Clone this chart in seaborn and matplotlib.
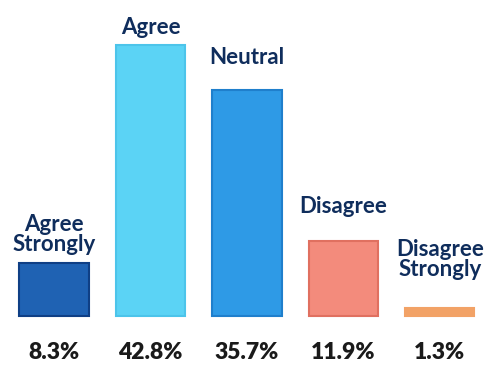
import matplotlib
matplotlib.use("Agg")
import matplotlib.pyplot as plt
import seaborn as sns

categories = ["Agree\nStrongly", "Agree", "Neutral", "Disagree", "Disagree\nStrongly"]
values = [8.3, 42.8, 35.7, 11.9, 1.3]
pct_labels = ["8.3%", "42.8%", "35.7%", "11.9%", "1.3%"]

colors = ["#1f62b3", "#5bd3f5", "#2e9ae6", "#f38b7c", "#f2a266"]
edges = ["#0f3f85", "#4cc4ea", "#1f7fcc", "#e07060", "#f2a266"]
label_pad = [8, 7, 22, 24, 28]  # gap above each bar, in pixels

sns.set_style("white")
plt.rcParams["font.family"] = ["Lato", "DejaVu Sans"]

fig = plt.figure(figsize=(4.88, 3.67), dpi=100)
ax = fig.add_axes([0, 0, 1, 1])
x = list(range(len(values)))
sns.barplot(x=x, y=values, hue=x, palette=colors, legend=False, width=0.72,
            saturation=1, ax=ax)
for patch, ec in zip(ax.patches, edges):
    patch.set_edgecolor(ec)
    patch.set_linewidth(1.5)

for i, (v, cat, pct) in enumerate(zip(values, categories, pct_labels)):
    ax.annotate(cat, (i, v), xytext=(0, label_pad[i] * 0.72), textcoords="offset points",
                ha="center", va="bottom", fontsize=16, fontweight="bold",
                color="#0f2d5c", linespacing=0.95)
    ax.text(i, -5.7, pct, ha="center", va="center", fontsize=16.5,
            fontweight="heavy", color="#1a1a1a")

ax.set_xlim(-0.56, 4.5)
ax.set_ylim(-8.06, 49.9)
ax.axis("off")
fig.savefig("out.png", dpi=100)
